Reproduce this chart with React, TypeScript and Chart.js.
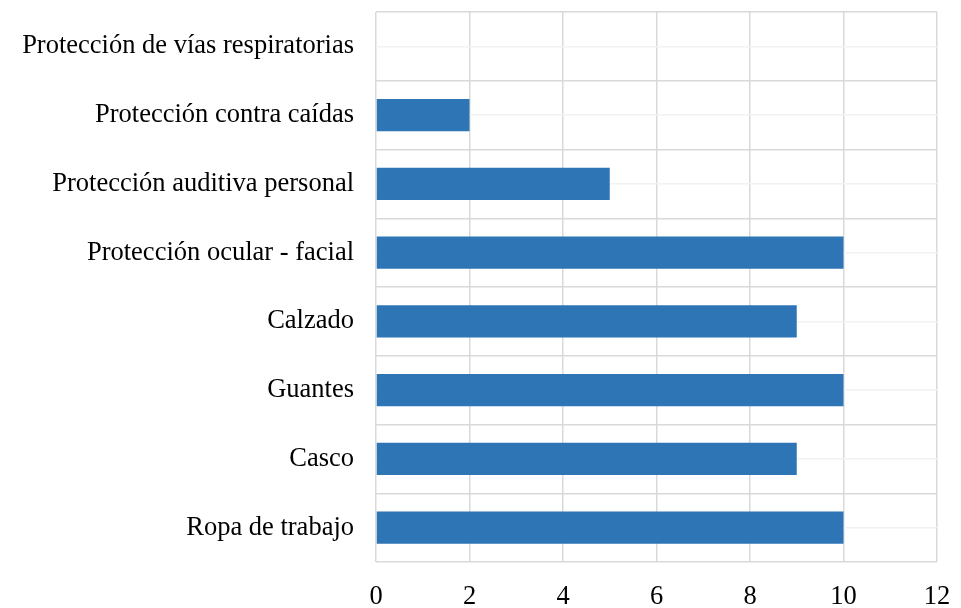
import React, { useEffect, useRef } from "react";
import { Chart, registerables } from "chart.js";

Chart.register(...registerables);

const categories = [
  "Protección de vías respiratorias",
  "Protección contra caídas",
  "Protección auditiva personal",
  "Protección ocular - facial",
  "Calzado",
  "Guantes",
  "Casco",
  "Ropa de trabajo",
];
const values = [0, 2, 5, 10, 9, 10, 9, 10];
const xMin = 0;
const xMax = 12;
const xStep = 2;

export default function App() {
  const ref = useRef<HTMLCanvasElement | null>(null);
  useEffect(() => {
    if (!ref.current) return;
    const font = { family: "'Liberation Serif', 'Times New Roman', serif", size: 26.5 };
    const chart = new Chart(ref.current, {
      type: "bar",
      data: {
        labels: categories,
        datasets: [
          {
            data: values,
            backgroundColor: "#2e75b6",
            borderWidth: 0,
            barPercentage: 0.47,
            categoryPercentage: 1,
            yAxisID: "y",
          },
        ],
      },
      options: {
        indexAxis: "y",
        animation: false,
        responsive: false,
        devicePixelRatio: 1,
        layout: { padding: { top: 12, right: 24, left: 0, bottom: 0 } },
        plugins: { legend: { display: false }, tooltip: { enabled: false } },
        scales: {
          x: {
            type: "linear",
            min: xMin,
            max: xMax,
            ticks: { stepSize: xStep, color: "#000", font, padding: 19 },
            grid: { color: "#d9d9d9", lineWidth: 1.5, drawTicks: false },
            border: { display: false },
            afterFit: (s: any) => {
              s.height = 46;
              s.paddingLeft = 0;
              s.paddingRight = 0;
            },
          },
          y: {
            type: "category",
            position: "left",
            offset: true,
            ticks: { color: "#000", font, padding: 22 },
            grid: { color: "#d9d9d9", lineWidth: 1.5, drawTicks: false, offset: true },
            border: { display: false },
            afterFit: (s: any) => {
              s.width = 376;
              s.paddingTop = 0;
              s.paddingBottom = 0;
            },
          },
          y2: {
            type: "category",
            position: "right",
            labels: categories,
            offset: true,
            ticks: { display: false },
            grid: { color: "#f2f2f2", lineWidth: 1.5, drawTicks: false, offset: false },
            border: { display: false },
            afterFit: (s: any) => {
              s.width = 0;
              s.paddingTop = 0;
              s.paddingBottom = 0;
            },
          },
        },
      },
    });
    return () => chart.destroy();
  }, []);
  return (
    <div style={{ position: "absolute", left: 0, top: 0, width: 961, height: 608, background: "#fff" }}>
      <canvas ref={ref} width={961} height={608} style={{ width: 961, height: 608 }} />
    </div>
  );
}
